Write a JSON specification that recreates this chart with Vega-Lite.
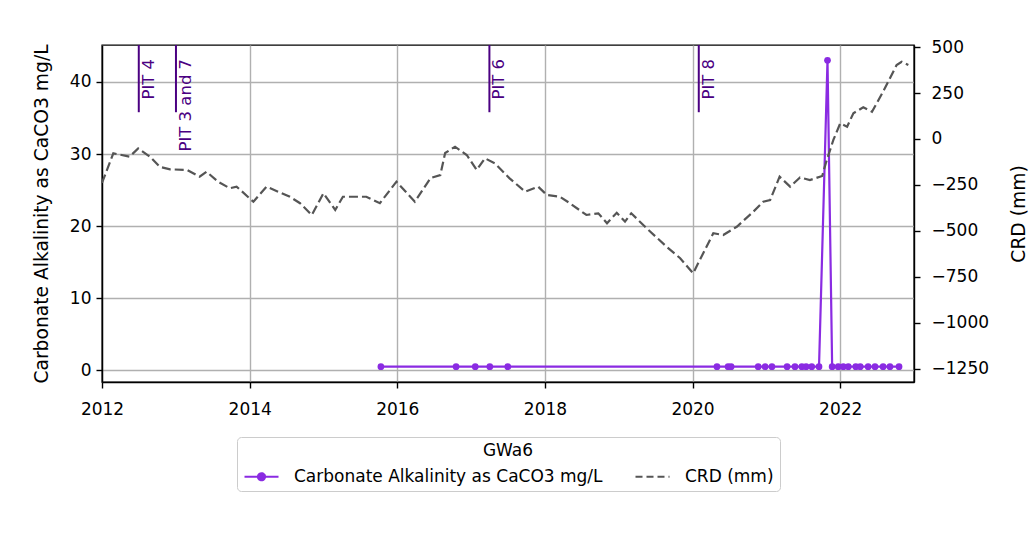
{
  "$schema": "https://vega.github.io/schema/vega-lite/v6.json",
  "width": 812,
  "height": 337,
  "autosize": {"type": "none"},
  "padding": {"left": 102, "top": 45, "right": 118, "bottom": 158},
  "background": "white",
  "config": {
    "font": "DejaVu Sans",
    "view": {"stroke": "black", "strokeWidth": 1.4},
    "axis": {
      "labelFont": "DejaVu Sans", "labelFontSize": 17, "labelColor": "black", "labelFlush": false,
      "titleFont": "DejaVu Sans", "titleFontSize": 18.7, "titleFontWeight": "normal", "titleColor": "black",
      "tickColor": "black", "tickWidth": 1.4, "tickSize": 6,
      "domainColor": "black", "domainWidth": 1.4,
      "gridColor": "#b0b0b0", "gridWidth": 1.4
    }
  },
  "datasets": {
    "alk": [
      {"date": "2015-10-12", "value": 0.5},
      {"date": "2016-10-18", "value": 0.5},
      {"date": "2017-01-21", "value": 0.5},
      {"date": "2017-04-03", "value": 0.5},
      {"date": "2017-07-01", "value": 0.5},
      {"date": "2020-05-01", "value": 0.5},
      {"date": "2020-06-25", "value": 0.5},
      {"date": "2020-07-10", "value": 0.5},
      {"date": "2020-11-21", "value": 0.5},
      {"date": "2020-12-25", "value": 0.5},
      {"date": "2021-01-28", "value": 0.5},
      {"date": "2021-04-13", "value": 0.5},
      {"date": "2021-05-22", "value": 0.5},
      {"date": "2021-06-25", "value": 0.5},
      {"date": "2021-07-16", "value": 0.5},
      {"date": "2021-08-13", "value": 0.5},
      {"date": "2021-09-18", "value": 0.5},
      {"date": "2021-10-30", "value": 43},
      {"date": "2021-11-22", "value": 0.5},
      {"date": "2021-12-22", "value": 0.5},
      {"date": "2022-01-16", "value": 0.5},
      {"date": "2022-02-10", "value": 0.5},
      {"date": "2022-03-19", "value": 0.5},
      {"date": "2022-04-10", "value": 0.5},
      {"date": "2022-05-19", "value": 0.5},
      {"date": "2022-06-22", "value": 0.5},
      {"date": "2022-08-01", "value": 0.5},
      {"date": "2022-09-04", "value": 0.5},
      {"date": "2022-10-19", "value": 0.5}
    ],
    "crd": [
      {"date": "2012-01-01", "crd": -239},
      {"date": "2012-02-26", "crd": -78},
      {"date": "2012-05-17", "crd": -96},
      {"date": "2012-06-28", "crd": -51},
      {"date": "2012-08-25", "crd": -96},
      {"date": "2012-10-13", "crd": -151},
      {"date": "2012-12-03", "crd": -165},
      {"date": "2013-02-25", "crd": -168},
      {"date": "2013-04-28", "crd": -205},
      {"date": "2013-06-01", "crd": -178},
      {"date": "2013-07-28", "crd": -232},
      {"date": "2013-09-25", "crd": -268},
      {"date": "2013-10-28", "crd": -259},
      {"date": "2014-01-19", "crd": -341},
      {"date": "2014-03-25", "crd": -259},
      {"date": "2014-07-19", "crd": -314},
      {"date": "2014-09-07", "crd": -349},
      {"date": "2014-11-04", "crd": -413},
      {"date": "2015-01-01", "crd": -295},
      {"date": "2015-02-28", "crd": -386},
      {"date": "2015-04-07", "crd": -314},
      {"date": "2015-08-01", "crd": -314},
      {"date": "2015-10-07", "crd": -349},
      {"date": "2015-12-28", "crd": -232},
      {"date": "2016-03-28", "crd": -341},
      {"date": "2016-06-14", "crd": -212},
      {"date": "2016-08-01", "crd": -196},
      {"date": "2016-08-25", "crd": -76},
      {"date": "2016-10-13", "crd": -42},
      {"date": "2016-12-10", "crd": -87},
      {"date": "2017-01-28", "crd": -168},
      {"date": "2017-03-10", "crd": -105},
      {"date": "2017-04-28", "crd": -132},
      {"date": "2017-07-10", "crd": -214},
      {"date": "2017-09-25", "crd": -286},
      {"date": "2017-11-28", "crd": -259},
      {"date": "2018-01-10", "crd": -304},
      {"date": "2018-03-16", "crd": -314},
      {"date": "2018-05-04", "crd": -349},
      {"date": "2018-07-25", "crd": -413},
      {"date": "2018-09-22", "crd": -404},
      {"date": "2018-11-04", "crd": -458},
      {"date": "2018-12-22", "crd": -401},
      {"date": "2019-02-01", "crd": -449},
      {"date": "2019-03-04", "crd": -404},
      {"date": "2019-05-19", "crd": -485},
      {"date": "2019-08-25", "crd": -585},
      {"date": "2019-11-01", "crd": -648},
      {"date": "2020-01-04", "crd": -730},
      {"date": "2020-04-13", "crd": -512},
      {"date": "2020-06-01", "crd": -522},
      {"date": "2020-08-07", "crd": -477},
      {"date": "2020-10-28", "crd": -395},
      {"date": "2020-12-16", "crd": -341},
      {"date": "2021-01-19", "crd": -332},
      {"date": "2021-03-07", "crd": -205},
      {"date": "2021-04-28", "crd": -259},
      {"date": "2021-06-16", "crd": -209},
      {"date": "2021-08-04", "crd": -223},
      {"date": "2021-10-04", "crd": -201},
      {"date": "2021-10-22", "crd": -130},
      {"date": "2021-11-28", "crd": -5},
      {"date": "2022-01-01", "crd": 85},
      {"date": "2022-02-04", "crd": 67},
      {"date": "2022-03-07", "crd": 140},
      {"date": "2022-04-25", "crd": 172},
      {"date": "2022-06-07", "crd": 148},
      {"date": "2022-08-01", "crd": 257},
      {"date": "2022-10-07", "crd": 402},
      {"date": "2022-11-01", "crd": 420},
      {"date": "2022-12-04", "crd": 402}
    ],
    "pits": [
      {"date": "2012-07-01", "label": "PIT 4"},
      {"date": "2013-01-01", "label": "PIT 3 and 7"},
      {"date": "2017-04-01", "label": "PIT 6"},
      {"date": "2020-02-01", "label": "PIT 8"}
    ]
  },
  "layer": [
    {
      "layer": [
        {
          "data": {"name": "alk"},
          "mark": {"type": "line", "strokeWidth": 2.2, "point": {"size": 45, "filled": true, "opacity": 1}},
          "encoding": {
            "x": {"field": "date", "type": "temporal",
                  "scale": {"type": "utc", "domain": [{"year": 2012, "month": 1, "date": 1, "utc": true}, {"year": 2023, "month": 1, "date": 1, "utc": true}]},
                  "axis": {"title": null, "format": "%Y", "grid": true, "labelPadding": 13,
                           "values": [{"year": 2012, "utc": true}, {"year": 2014, "utc": true}, {"year": 2016, "utc": true}, {"year": 2018, "utc": true}, {"year": 2020, "utc": true}, {"year": 2022, "utc": true}]}},
            "y": {"field": "value", "type": "quantitative",
                  "scale": {"domain": [-1.625, 45.125], "nice": false, "zero": false},
                  "axis": {"title": "Carbonate Alkalinity as CaCO3 mg/L", "values": [0, 10, 20, 30, 40], "grid": true, "labelPadding": 5, "titlePadding": 18}},
            "color": {"datum": "Carbonate Alkalinity as CaCO3 mg/L",
                      "scale": {"domain": ["Carbonate Alkalinity as CaCO3 mg/L", "CRD (mm)"], "range": ["#8a2be2", "#555555"]},
                      "legend": {
                        "title": "GWa6", "orient": "none", "legendX": 135, "legendY": 392,
                        "direction": "horizontal", "columns": 2, "titleAnchor": "middle",
                        "titleFontSize": 17, "titleFontWeight": "normal", "titleColor": "black", "titlePadding": 5,
                        "labelFontSize": 17, "labelColor": "black", "labelLimit": 600,
                        "symbolSize": 400, "symbolStrokeWidth": 2.2, "labelOffset": 28, "columnPadding": 28,
                        "padding": 6, "strokeColor": "#cccccc", "cornerRadius": 4, "fillColor": "white",
                        "encode": {"symbols": {"update": {
                          "shape": {"signal": "datum.value == 'CRD (mm)' ? 'M-1,0H2.4' : 'M-1,0H2.4M1.05,0A0.35,0.35,0,1,1,0.35,0A0.35,0.35,0,1,1,1.05,0Z'"},
                          "fill": {"signal": "datum.value == 'CRD (mm)' ? 'transparent' : '#8a2be2'"},
                          "stroke": {"signal": "datum.value == 'CRD (mm)' ? '#555555' : '#8a2be2'"},
                          "strokeDash": {"signal": "datum.value == 'CRD (mm)' ? [7, 4] : [1, 0]"},
                          "strokeWidth": {"value": 2.2},
                          "opacity": {"value": 1}
                        }}}
                      }}
          }
        },
        {
          "data": {"name": "pits"},
          "mark": {"type": "rule", "color": "indigo", "strokeWidth": 2},
          "encoding": {
            "x": {"field": "date", "type": "temporal",
                  "scale": {"type": "utc", "domain": [{"year": 2012, "month": 1, "date": 1, "utc": true}, {"year": 2023, "month": 1, "date": 1, "utc": true}]},
                  "axis": {"title": null, "format": "%Y", "grid": true, "labelPadding": 13,
                           "values": [{"year": 2012, "utc": true}, {"year": 2014, "utc": true}, {"year": 2016, "utc": true}, {"year": 2018, "utc": true}, {"year": 2020, "utc": true}, {"year": 2022, "utc": true}]}},
            "y": {"datum": 35.8, "type": "quantitative",
                  "scale": {"domain": [-1.625, 45.125], "nice": false, "zero": false},
                  "axis": {"title": "Carbonate Alkalinity as CaCO3 mg/L", "values": [0, 10, 20, 30, 40], "grid": true, "labelPadding": 5, "titlePadding": 18}},
            "y2": {"datum": 45.125}
          }
        },
        {
          "data": {"name": "pits"},
          "mark": {"type": "text", "angle": 270, "align": "right", "baseline": "top", "dy": 2, "fontSize": 16.5, "color": "indigo", "font": "DejaVu Sans"},
          "encoding": {
            "x": {"field": "date", "type": "temporal",
                  "scale": {"type": "utc", "domain": [{"year": 2012, "month": 1, "date": 1, "utc": true}, {"year": 2023, "month": 1, "date": 1, "utc": true}]},
                  "axis": {"title": null, "format": "%Y", "grid": true, "labelPadding": 13,
                           "values": [{"year": 2012, "utc": true}, {"year": 2014, "utc": true}, {"year": 2016, "utc": true}, {"year": 2018, "utc": true}, {"year": 2020, "utc": true}, {"year": 2022, "utc": true}]}},
            "y": {"datum": 43.2, "type": "quantitative",
                  "scale": {"domain": [-1.625, 45.125], "nice": false, "zero": false},
                  "axis": {"title": "Carbonate Alkalinity as CaCO3 mg/L", "values": [0, 10, 20, 30, 40], "grid": true, "labelPadding": 5, "titlePadding": 18}},
            "text": {"field": "label"}
          }
        }
      ]
    },
    {
      "data": {"name": "crd"},
      "mark": {"type": "line", "strokeWidth": 2.2, "strokeDash": [9, 4]},
      "encoding": {
        "x": {"field": "date", "type": "temporal",
              "scale": {"type": "utc", "domain": [{"year": 2012, "month": 1, "date": 1, "utc": true}, {"year": 2023, "month": 1, "date": 1, "utc": true}]},
              "axis": {"title": null, "format": "%Y", "grid": true, "labelPadding": 13,
                       "values": [{"year": 2012, "utc": true}, {"year": 2014, "utc": true}, {"year": 2016, "utc": true}, {"year": 2018, "utc": true}, {"year": 2020, "utc": true}, {"year": 2022, "utc": true}]}},
        "y": {"field": "crd", "type": "quantitative",
              "scale": {"domain": [-1321, 511], "nice": false, "zero": false},
              "axis": {"orient": "right", "title": "CRD (mm)", "titleAngle": 270, "format": "d", "values": [500, 250, 0, -250, -500, -750, -1000, -1250], "grid": false, "labelPadding": 11, "titlePadding": 40}},
        "color": {"datum": "CRD (mm)"}
      }
    }
  ],
  "resolve": {"scale": {"y": "independent"}}
}
